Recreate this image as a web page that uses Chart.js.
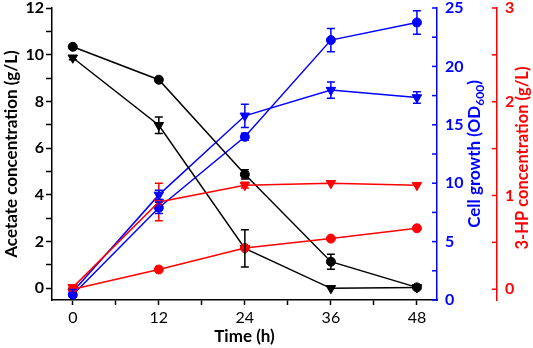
<!DOCTYPE html>
<html>
<head>
  <meta charset="utf-8">
  <title>Acetate, cell growth and 3-HP</title>
  <script src="https://cdn.jsdelivr.net/npm/chart.js"></script>
  <style>
    html, body { margin: 0; padding: 0; background: #fff; }
    #box { width: 533px; height: 348px; }
  </style>
</head>
<body>
<div id="box"><canvas id="c"></canvas></div>
<script>
  // values
  var timeH = [0, 12, 24, 36, 48];

  var acetateCircle = [10.34, 8.93, 4.88, 1.14, 0.04];
  var acetateCircleErr = [0.08, 0.08, 0.2, 0.32, 0.06];
  var acetateTriangle = [9.87, 6.98, 1.71, 0.0, 0.04];
  var acetateTriangleErr = [0.08, 0.35, 0.8, 0, 0];

  var odCircle = [0.45, 7.9, 13.97, 22.25, 23.76];
  var odCircleErr = [0.2, 0.5, 0.3, 1.0, 1.0];
  var odTriangle = [0.7, 9.0, 15.77, 17.97, 17.34];
  var odTriangleErr = [0.2, 0.4, 1.0, 0.7, 0.5];

  var hpCircle = [0.0, 0.21, 0.44, 0.54, 0.65];
  var hpCircleErr = [0, 0, 0, 0, 0];
  var hpTriangle = [0.02, 0.93, 1.11, 1.13, 1.11];
  var hpTriangleErr = [0, 0.2, 0.03, 0, 0];

  var xTicks = [0, 6, 12, 18, 24, 30, 36, 42, 48];
  var xLabels = [0, 12, 24, 36, 48];
  var acetateTicks = [0, 1, 2, 3, 4, 5, 6, 7, 8, 9, 10, 11, 12];
  var acetateLabels = [0, 2, 4, 6, 8, 10, 12];
  var odTicks = [0, 2.5, 5, 7.5, 10, 12.5, 15, 17.5, 20, 22.5, 25];
  var odLabels = [0, 5, 10, 15, 20, 25];
  var hpTicks = [0, 0.5, 1, 1.5, 2, 2.5, 3];
  var hpLabels = [0, 1, 2, 3];

  var BLACK = '#000000', BLUE = '#0000ff', RED = '#ff0000';
  var FONT = 'Lato, "Open Sans", sans-serif';

  function pts(vals) {
    return vals.map(function (v, i) { return { x: timeH[i], y: v }; });
  }

  function series(label, vals, errs, color, axis, tri) {
    return {
      label: label,
      data: pts(vals),
      errors: errs,
      yAxisID: axis,
      borderColor: color,
      backgroundColor: color,
      borderWidth: 1.5,
      pointStyle: tri ? 'triangle' : 'circle',
      rotation: tri ? 180 : 0,
      pointRadius: tri ? 5.5 : 4.5,
      pointBorderWidth: 1,
      tension: 0
    };
  }

  // fixed ticks from the arrays above
  function setTicks(list) {
    return function (scale) {
      scale.ticks = list.map(function (v) { return { value: v }; });
    };
  }
  function showOnly(list) {
    return function (value) { return list.indexOf(value) >= 0 ? String(value) : ''; };
  }
  function fixWidth(w) {
    return function (scale) {
      scale.width = w;
      scale.paddingTop = 0;
      scale.paddingBottom = 0;
    };
  }

  // error bars, drawn through the scales
  var errorBars = {
    id: 'errorBars',
    afterDatasetsDraw: function (chart) {
      var ctx = chart.ctx;
      var xs = chart.scales.x;
      chart.data.datasets.forEach(function (ds) {
        var ys = chart.scales[ds.yAxisID];
        ctx.save();
        ctx.strokeStyle = ds.borderColor;
        ctx.lineWidth = 1.5;
        ds.data.forEach(function (p, i) {
          var e = ds.errors[i];
          if (!e) return;
          var px = xs.getPixelForValue(p.x);
          var top = ys.getPixelForValue(p.y + e);
          var bot = ys.getPixelForValue(p.y - e);
          ctx.beginPath();
          ctx.moveTo(px, top); ctx.lineTo(px, bot);
          ctx.moveTo(px - 4, top); ctx.lineTo(px + 4, top);
          ctx.moveTo(px - 4, bot); ctx.lineTo(px + 4, bot);
          ctx.stroke();
        });
        ctx.restore();
      });
    }
  };

  // inward ticks and bottom-to-top titles for the two right axes
  var rightAxes = {
    id: 'rightAxes',
    afterDraw: function (chart) {
      var ctx = chart.ctx;
      [['y1', BLUE], ['y2', RED]].forEach(function (a) {
        var s = chart.scales[a[0]];
        ctx.save();
        ctx.strokeStyle = a[1];
        ctx.lineWidth = 1.5;
        s.ticks.forEach(function (t) {
          var py = s.getPixelForValue(t.value);
          ctx.beginPath();
          ctx.moveTo(s.left, py); ctx.lineTo(s.left - 5, py);
          ctx.stroke();
        });
        ctx.restore();
      });

      var midY = (chart.chartArea.top + chart.chartArea.bottom) / 2;

      // Cell growth (OD600)
      ctx.save();
      ctx.fillStyle = BLUE;
      ctx.translate(chart.scales.y1.left + 38, midY);
      ctx.rotate(-Math.PI / 2);
      ctx.textBaseline = 'middle';
      ctx.textAlign = 'left';
      var big = 'bold 17px ' + FONT, small = 'bold 12px ' + FONT;
      ctx.font = big;
      var a = 'Cell growth (OD', c = ')';
      var wa = ctx.measureText(a).width, wc = ctx.measureText(c).width;
      ctx.font = small;
      var wb = ctx.measureText('600').width;
      var x0 = -(wa + wb + wc) / 2;
      ctx.font = big;
      ctx.fillText(a, x0, 0);
      ctx.font = small;
      ctx.fillText('600', x0 + wa, 5);
      ctx.font = big;
      ctx.fillText(c, x0 + wa + wb, 0);
      ctx.restore();

      // 3-HP concentration (g/L)
      ctx.save();
      ctx.fillStyle = RED;
      ctx.translate(chart.scales.y2.left + 26, midY + 4);
      ctx.rotate(-Math.PI / 2);
      ctx.textBaseline = 'middle';
      ctx.textAlign = 'center';
      ctx.font = 'bold 16.5px ' + FONT;
      ctx.fillText('3-HP concentration (g/L)', 0, 0);
      ctx.restore();
    }
  };

  new Chart(document.getElementById('c'), {
    type: 'line',
    data: {
      datasets: [
        series('3-HP circle', hpCircle, hpCircleErr, RED, 'y2', false),
        series('3-HP triangle', hpTriangle, hpTriangleErr, RED, 'y2', true),
        series('Acetate circle', acetateCircle, acetateCircleErr, BLACK, 'y', false),
        series('Acetate triangle', acetateTriangle, acetateTriangleErr, BLACK, 'y', true),
        series('OD circle', odCircle, odCircleErr, BLUE, 'y1', false),
        series('OD triangle', odTriangle, odTriangleErr, BLUE, 'y1', true)
      ]
    },
    options: {
      responsive: true,
      maintainAspectRatio: false,
      animation: false,
      layout: { padding: { top: 8, right: 0, bottom: 0, left: 0 } },
      plugins: {
        legend: { display: false },
        tooltip: { enabled: false }
      },
      scales: {
        x: {
          type: 'linear',
          min: -2.9,
          max: 50.8,
          afterBuildTicks: setTicks(xTicks),
          afterFit: function (s) { s.height = 48; s.paddingLeft = 0; s.paddingRight = 0; },
          ticks: {
            callback: showOnly(xLabels),
            color: BLACK,
            padding: 3,
            font: { family: FONT, size: 16 },
            autoSkip: false,
            maxRotation: 0
          },
          grid: { drawOnChartArea: false, tickLength: 5, tickColor: BLACK, tickWidth: 1.5 },
          border: { color: BLACK, width: 1.5 },
          title: {
            display: true,
            text: 'Time (h)',
            color: BLACK,
            font: { family: FONT, size: 17, weight: 'bold' },
            padding: { top: 0, bottom: 1 }
          }
        },
        y: {
          position: 'left',
          min: -0.5,
          max: 12,
          afterBuildTicks: setTicks(acetateTicks),
          afterFit: fixWidth(52),
          ticks: {
            callback: showOnly(acetateLabels),
            color: BLACK,
            padding: 2,
            font: { family: FONT, size: 16, weight: 'bold' },
            autoSkip: false
          },
          grid: { drawOnChartArea: false, tickLength: 6, tickColor: BLACK, tickWidth: 1.5 },
          border: { color: BLACK, width: 1.5 },
          title: {
            display: true,
            text: 'Acetate concentration (g/L)',
            color: BLACK,
            font: { family: FONT, size: 17, weight: 'bold' },
            padding: { top: 1, bottom: 0 }
          }
        },
        y1: {
          position: 'right',
          min: 0,
          max: 25,
          afterBuildTicks: setTicks(odTicks),
          afterFit: fixWidth(60),
          ticks: {
            callback: showOnly(odLabels),
            color: BLUE,
            padding: 8,
            font: { family: FONT, size: 16, weight: 'bold' },
            autoSkip: false
          },
          grid: { drawOnChartArea: false, drawTicks: false },
          border: { color: BLUE, width: 1.5 }
        },
        y2: {
          position: 'right',
          min: -0.115,
          max: 3,
          afterBuildTicks: setTicks(hpTicks),
          afterFit: fixWidth(36),
          ticks: {
            callback: showOnly(hpLabels),
            color: RED,
            padding: 8,
            font: { family: FONT, size: 16, weight: 'bold' },
            autoSkip: false
          },
          grid: { drawOnChartArea: false, drawTicks: false },
          border: { color: RED, width: 1.5 }
        }
      }
    },
    plugins: [errorBars, rightAxes]
  });
</script>
</body>
</html>
